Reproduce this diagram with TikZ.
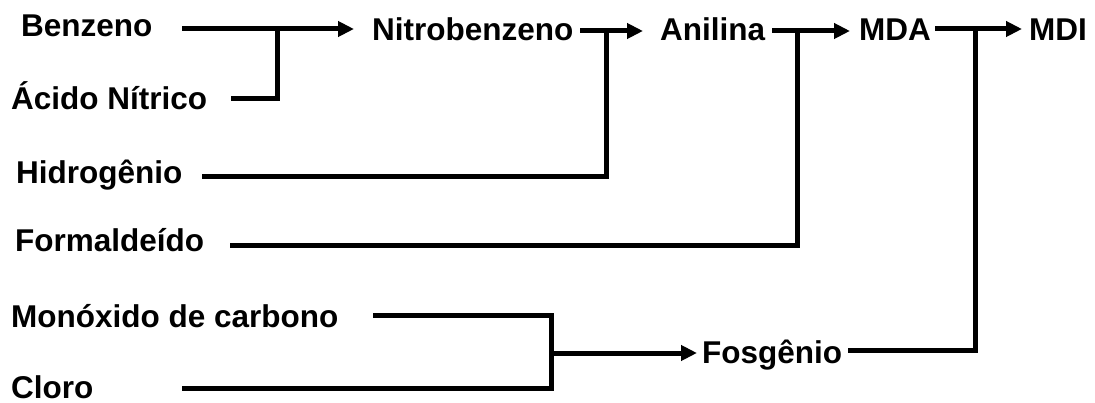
\documentclass[tikz,border=0pt]{standalone}
\usepackage{fontspec}
\setmainfont{Liberation Sans}
\usetikzlibrary{arrows.meta}
\begin{document}
\begin{tikzpicture}[x=1pt,y=-1pt,
  lbl/.style={anchor=base west,inner sep=0pt,font=\bfseries\fontsize{31.5}{31.5}\selectfont},
  conn/.style={line width=5pt,line join=miter},
  arr/.style={conn,-{Triangle[length=16pt,width=15pt]}}]
\useasboundingbox (0,0) rectangle (1095,403);
% nodes
\node[lbl] (benz) at (21,37) {Benzeno};
\node[lbl] (acid) at (11,110) {Ácido Nítrico};
\node[lbl] (nitro) at (372,41) {Nitrobenzeno};
\node[lbl] (anil) at (660,41) {Anilina};
\node[lbl] (mda) at (859,41) {MDA};
\node[lbl] (mdi) at (1029,41) {MDI};
\node[lbl] (hidr) at (16,184) {Hidrogênio};
\node[lbl] (form) at (15,252) {Formaldeído};
\node[lbl] (mono) at (11,327) {Monóxido de carbono};
\node[lbl] (clor) at (11,398) {Cloro};
\node[lbl] (fosg) at (702,363) {Fosgênio};
% connector points
\coordinate (benzout) at (182,29);
\coordinate (nitroin) at (354,29);
\coordinate (acidout) at (231,99);
\coordinate (j1) at (277,29);
\coordinate (nitroout) at (580,31);
\coordinate (anilin) at (643,31);
\coordinate (hidrout) at (202,177);
\coordinate (j2) at (606,31);
\coordinate (anilout) at (772,31);
\coordinate (mdain) at (850,31);
\coordinate (formout) at (230,246);
\coordinate (j3) at (797,31);
\coordinate (mdaout) at (935,29);
\coordinate (mdiin) at (1022,29);
\coordinate (fosgout) at (848,350);
\coordinate (j4) at (975,29);
\coordinate (monoout) at (373,316);
\coordinate (clorout) at (182,388);
\coordinate (j5) at (551,353);
\coordinate (fosgin) at (697,353);
% connectors
\draw[arr] (benzout) -- (nitroin);
\draw[conn] (acidout) -| (j1);
\draw[arr] (nitroout) -- (anilin);
\draw[conn] (hidrout) -| (j2);
\draw[arr] (anilout) -- (mdain);
\draw[conn] (formout) -| (j3);
\draw[arr] (mdaout) -- (mdiin);
\draw[conn] (fosgout) -| (j4);
\draw[conn] (monoout) -| (j5 |- clorout) -- (clorout);
\draw[arr] (j5) -- (fosgin);
\end{tikzpicture}
\end{document}
